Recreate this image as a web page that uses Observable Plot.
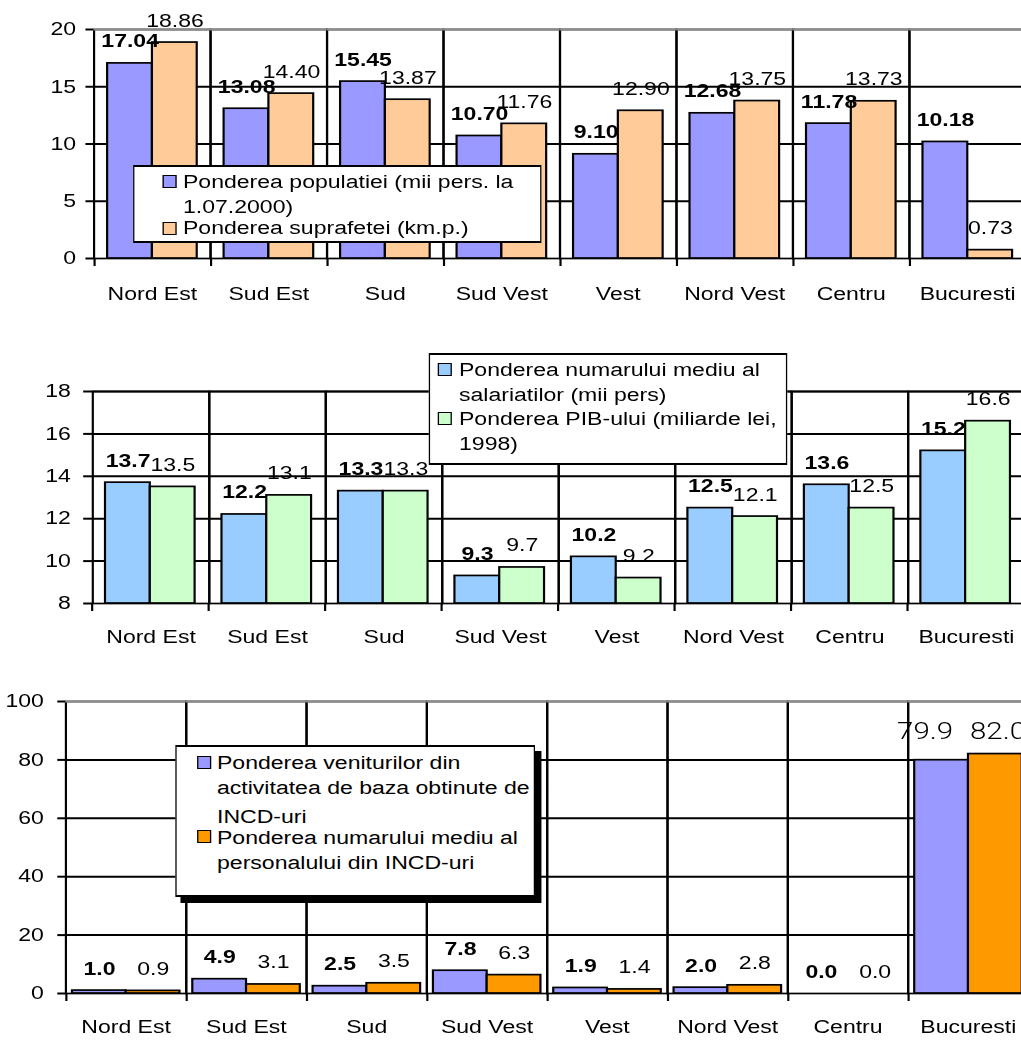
<!DOCTYPE html>
<html>
<head>
<meta charset="utf-8">
<script src="https://cdn.jsdelivr.net/npm/d3@7"></script>
<script src="https://cdn.jsdelivr.net/npm/@observablehq/plot@0.6"></script>
<style>
  html, body { margin: 0; padding: 0; background: #fff; overflow: hidden; width: 1021px; height: 1040px; }
  #wrap { position: absolute; left: 0; top: 0; height: 1040px; transform-origin: 0 0; }
  #wrap svg { position: absolute; left: 0; overflow: visible; }
  [aria-label^="y-axis"] line, [aria-label^="y-axis"] path { stroke-width: 2px; stroke: #000; }
  .lg { position: absolute; box-sizing: border-box; background: #fff; border-style: solid; border-color: #000; }
  .lgs { position: absolute; box-sizing: border-box; background: #000; }
  .sw { position: absolute; box-sizing: border-box; border-style: solid; border-color: #000; }
  .lt { position: absolute; font-family: "Liberation Sans", Arial, sans-serif; font-size: 18px; line-height: 18px; white-space: nowrap; color: #000; }
</style>
</head>
<body>
<div id="wrap"></div>
<script>
// ---------- data ----------
const regions = ["Nord Est", "Sud Est", "Sud", "Sud Vest", "Vest", "Nord Vest", "Centru", "Bucuresti"];

// chart 1
const populationShare = [17.04, 13.08, 15.45, 10.70, 9.10, 12.68, 11.78, 10.18];
const areaShare       = [18.86, 14.40, 13.87, 11.76, 12.90, 13.75, 13.73, 0.73];
const legend1Labels = [["Ponderea populatiei (mii pers. la", "1.07.2000)"], ["Ponderea suprafetei (km.p.)"]];
const y1Ticks = [0, 5, 10, 15, 20];

// chart 2
const employeeShare = [13.7, 12.2, 13.3, 9.3, 10.2, 12.5, 13.6, 15.2];
const gdpShare      = [13.5, 13.1, 13.3, 9.7, 9.2, 12.1, 12.5, 16.6];
const legend2Labels = [["Ponderea numarului mediu al", "salariatilor (mii pers)"], ["Ponderea PIB-ului (miliarde lei,", "1998)"]];
const y2Ticks = [8, 10, 12, 14, 16, 18];

// chart 3
const incomeShare    = [1.0, 4.9, 2.5, 7.8, 1.9, 2.0, 0.0, 79.9];
const personnelShare = [0.9, 3.1, 3.5, 6.3, 1.4, 2.8, 0.0, 82.0];
const legend3Labels = [["Ponderea veniturilor din", "activitatea de baza obtinute de", "INCD-uri"], ["Ponderea numarului mediu al", "personalului din INCD-uri"]];
const y3Ticks = [0, 20, 40, 60, 80, 100];

// ---------- layout ----------
const S = 1.28;          // horizontal stretch of the original picture
const W = 1029 / S;      // svg width before stretch
const wrap = document.getElementById("wrap");
wrap.style.width = W + "px";
wrap.style.transform = `scaleX(${S})`;

function makeRows(a, b) {
  return regions.flatMap((r, i) => [
    {region: r, series: "A", value: a[i]},
    {region: r, series: "B", value: b[i]}
  ]);
}

function chart(cfg) {
  const rows = makeRows(cfg.a, cfg.b);
  const ticks = cfg.ticks;
  const y0 = ticks[0], yTop = ticks[ticks.length - 1];
  const plotH = cfg.height - cfg.marginTop - cfg.marginBottom;
  const facetW = (W - cfg.marginLeft) / regions.length;
  const step = facetW / (2 + 2 * cfg.pad);
  const fmt = d => d.value.toFixed(cfg.decimals);
  const isMain = cfg.special ? d => d.region !== cfg.special : () => true;
  const marks = [
    Plot.ruleY(ticks.slice(1, -1), {stroke: "#000", strokeWidth: 2}),
    Plot.frame({stroke: "#000", strokeWidth: 1.7}),
    Plot.ruleY([yTop], {stroke: cfg.topGray ? "#8c8c8c" : "#000", strokeWidth: 2}),
    Plot.ruleX(["A"], {x: d => d, insetTop: plotH, insetBottom: -8, dx: -(cfg.pad + 0.5) * step, stroke: "#000", strokeWidth: 1.7}),
    Plot.barY(rows, {filter: d => d.series === "A", x: "series", y1: y0, y2: "value", fill: cfg.colors[0], stroke: "#000", strokeWidth: 1.7}),
    Plot.barY(rows, {filter: d => d.series === "B", x: "series", y1: y0, y2: "value", fill: cfg.colors[1], stroke: "#000", strokeWidth: 1.7}),
    Plot.text(rows, {filter: d => d.series === "A" && isMain(d), x: "series", y: "value", text: fmt, dy: -16, lineAnchor: "bottom", fontWeight: "bold", fill: "#000"}),
    Plot.text(rows, {filter: d => d.series === "B" && isMain(d), x: "series", y: "value", text: fmt, dy: -16, lineAnchor: "bottom", fill: "#000"})
  ];
  if (cfg.special) {
    marks.push(
      Plot.text(rows, {filter: d => d.series === "A" && d.region === cfg.special, x: "series", y: "value", text: fmt, dy: -21, dx: -13, lineAnchor: "bottom", fontSize: 23, fontWeight: 300, fontFamily: "Roboto, Liberation Sans, sans-serif", fill: "#000"}),
      Plot.text(rows, {filter: d => d.series === "B" && d.region === cfg.special, x: "series", y: "value", text: fmt, dy: -15, dx: 2, lineAnchor: "bottom", fontSize: 23, fontWeight: 300, fontFamily: "Roboto, Liberation Sans, sans-serif", fill: "#000"})
    );
  }
  const svg = Plot.plot({
    width: W,
    height: cfg.height,
    marginTop: cfg.marginTop,
    marginBottom: cfg.marginBottom,
    marginLeft: cfg.marginLeft,
    marginRight: 0,
    style: {fontFamily: "'Liberation Sans', Arial, sans-serif", fontSize: "18px", background: "transparent", color: "#000", overflow: "visible"},
    facet: {data: rows, x: "region"},
    fx: {domain: regions, padding: 0, axis: "bottom", label: null, tickSize: 0, tickPadding: cfg.labelPad},
    x: {domain: ["A", "B"], paddingInner: 0, paddingOuter: cfg.pad, axis: null},
    y: {domain: [y0, yTop], ticks: ticks, tickSize: cfg.tickSize / S, tickPadding: cfg.tickPad / S, label: null},
    marks
  });
  svg.style.top = cfg.top + "px";
  wrap.appendChild(svg);
}

function legend(cfg) {
  const [x0, y0, x1, y1] = cfg.box;
  if (cfg.shadow) {
    const sh = document.createElement("div");
    sh.className = "lgs";
    sh.style.left = (x0 + cfg.shadow) / S + "px";
    sh.style.top = (y0 + cfg.shadow) + "px";
    sh.style.width = (x1 - x0) / S + "px";
    sh.style.height = (y1 - y0) + "px";
    wrap.appendChild(sh);
  }
  const box = document.createElement("div");
  box.className = "lg";
  box.style.left = x0 / S + "px";
  box.style.top = y0 + "px";
  box.style.width = (x1 - x0) / S + "px";
  box.style.height = (y1 - y0) + "px";
  box.style.borderWidth = `2px ${2 / S}px`;
  wrap.appendChild(box);
  cfg.labels.forEach((lines, k) => {
    const sw = document.createElement("div");
    sw.className = "sw";
    sw.style.left = cfg.swX / S + "px";
    sw.style.top = cfg.swY[k] + "px";
    sw.style.width = 14 / S + "px";
    sw.style.height = "13px";
    sw.style.borderWidth = `1.6px ${1.6 / S}px`;
    sw.style.background = cfg.colors[k];
    wrap.appendChild(sw);
    lines.forEach((t, j) => {
      const el = document.createElement("div");
      el.className = "lt";
      el.textContent = t;
      el.style.left = cfg.textX / S + "px";
      el.style.top = (cfg.capTops[k][j] - 2.4) + "px";
      wrap.appendChild(el);
    });
  });
}

// chart 1
chart({a: populationShare, b: areaShare, ticks: y1Ticks, colors: ["#9999FF", "#FFCC99"], decimals: 2,
  top: 0, height: 310, marginTop: 29, marginBottom: 52, marginLeft: 90 / S, pad: 0.27, topGray: true,
  labelPad: 29, tickSize: 8, tickPad: 10});
legend({box: [133, 165, 541, 243], labels: legend1Labels, colors: ["#9999FF", "#FFCC99"],
  swX: 163, swY: [175, 222], textX: 183, capTops: [[175, 200], [221]]});

// chart 2
chart({a: employeeShare, b: gdpShare, ticks: y2Ticks, colors: ["#99CCFF", "#CCFFCC"], decimals: 1,
  top: 330, height: 320, marginTop: 61, marginBottom: 47, marginLeft: 87 / S, pad: 0.28, topGray: false,
  labelPad: 27, tickSize: 9, tickPad: 13});
legend({box: [429, 353, 787, 465], labels: legend2Labels, colors: ["#99CCFF", "#CCFFCC"],
  swX: 438, swY: [363, 412], textX: 459, capTops: [[363, 388], [412, 437]]});

// chart 3
chart({a: incomeShare, b: personnelShare, ticks: y3Ticks, colors: ["#9999FF", "#FF9900"], decimals: 1,
  top: 660, height: 380, marginTop: 41, marginBottom: 47, marginLeft: 65 / S, pad: 0.11, topGray: true,
  labelPad: 27, tickSize: 8, tickPad: 14, special: "Bucuresti"});
legend({box: [175, 745, 535, 897], shadow: 6, labels: legend3Labels, colors: ["#9999FF", "#FF9900"],
  swX: 197, swY: [756, 830], textX: 217, capTops: [[756, 781, 810], [831, 856]]});
</script>
</body>
</html>
